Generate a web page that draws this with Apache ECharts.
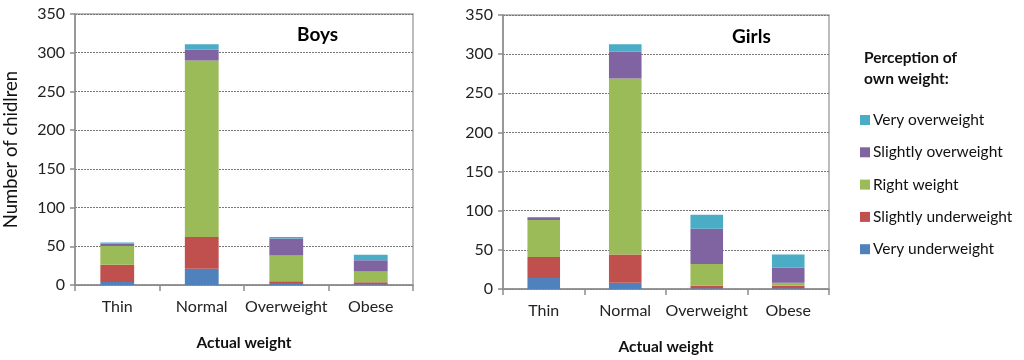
<!DOCTYPE html>
<html><head><meta charset="utf-8">
<script src="https://cdn.jsdelivr.net/npm/echarts@6/dist/echarts.min.js"></script>
<style>html,body{margin:0;padding:0;background:#fff}#c{width:1024px;height:360px}</style>
</head><body><div id="c"></div>
<script>
const categories = ['Thin', 'Normal', 'Overweight', 'Obese'];
const seriesNames = ['Very underweight', 'Slightly underweight', 'Right weight', 'Slightly overweight', 'Very overweight'];
const colors = ['#4F81BD', '#C0504D', '#9BBB59', '#8064A2', '#4BACC6'];
// Boys
const boysVeryUnder   = [4, 21, 2.5, 1];
const boysSlightUnder = [22, 41, 2.5, 2.5];
const boysRight       = [24.5, 228, 33, 14];
const boysSlightOver  = [3, 14, 22, 14.5];
const boysVeryOver    = [1.5, 7, 2, 7];
// Girls
const girlsVeryUnder   = [14, 8, 1, 1];
const girlsSlightUnder = [27, 36, 3, 3];
const girlsRight       = [47, 225, 28, 4];
const girlsSlightOver  = [3.5, 34.5, 45, 19];
const girlsVeryOver    = [0.5, 9, 18, 17];
const yTicks = { min: 0, max: 350, interval: 50 };

const boys = [boysVeryUnder, boysSlightUnder, boysRight, boysSlightOver, boysVeryOver];
const girls = [girlsVeryUnder, girlsSlightUnder, girlsRight, girlsSlightOver, girlsVeryOver];
const FONT = 'Lato';

function xAxis(idx) {
  return {
    type: 'category', gridIndex: idx, data: categories,
    axisLine: { lineStyle: { color: '#8c8c8c', width: 1.5 } },
    axisTick: { show: true, length: 6, lineStyle: { color: '#8c8c8c', width: 1.5 } },
    axisLabel: { color: '#222', fontSize: 16, fontFamily: FONT, margin: 14, interval: 0 },
    name: 'Actual weight', nameLocation: 'middle', nameGap: 50,
    nameTextStyle: { fontWeight: 'bold', fontSize: 15.5, color: '#111', fontFamily: FONT }
  };
}
function yAxis(idx) {
  const a = {
    type: 'value', gridIndex: idx, min: yTicks.min, max: yTicks.max, interval: yTicks.interval,
    axisLine: { show: true, lineStyle: { color: '#8c8c8c', width: 1.5 } },
    axisTick: { show: true, length: 5, lineStyle: { color: '#8c8c8c', width: 1.5 } },
    axisLabel: { color: '#222', fontSize: 16, fontFamily: FONT, margin: 10 },
    splitLine: { show: true, lineStyle: { color: '#777', type: [2, 1], width: 1 } }
  };
  if (idx === 0) {
    a.name = 'Number of chidlren';
    a.nameLocation = 'middle';
    a.nameGap = 54;
    a.nameTextStyle = { fontSize: 18.5, color: '#111', fontFamily: FONT };
  }
  return a;
}
const series = [];
[boys, girls].forEach((grp, gi) => {
  grp.forEach((vals, si) => {
    series.push({
      type: 'bar', name: seriesNames[si], xAxisIndex: gi, yAxisIndex: gi,
      stack: gi === 0 ? 'boys' : 'girls', data: vals, barWidth: '40%',
      itemStyle: { color: colors[si] }
    });
  });
});
const option = {
  animation: false,
  color: colors,
  textStyle: { fontFamily: FONT },
  grid: [
    { left: 75, top: 14, width: 338, height: 271, show: true, borderColor: '#a6a6a6', borderWidth: 1.5, backgroundColor: 'transparent', outerBoundsMode: 'none', containLabel: false },
    { left: 503, top: 15, width: 326, height: 274, show: true, borderColor: '#a6a6a6', borderWidth: 1.5, backgroundColor: 'transparent', outerBoundsMode: 'none', containLabel: false }
  ],
  xAxis: [xAxis(0), xAxis(1)],
  yAxis: [yAxis(0), yAxis(1)],
  title: [
    { text: 'Boys', left: 292, top: 20, textStyle: { fontSize: 19, fontWeight: 'bold', color: '#000', fontFamily: FONT } },
    { text: 'Girls', left: 727, top: 22, textStyle: { fontSize: 19, fontWeight: 'bold', color: '#000', fontFamily: FONT } },
    { text: 'Perception of\nown weight:', left: 859, top: 42, textStyle: { fontSize: 15.5, fontWeight: 'bold', color: '#111', fontFamily: FONT, lineHeight: 21 } }
  ],
  legend: {
    orient: 'vertical', left: 855, top: 107, itemWidth: 10, itemHeight: 10, itemGap: 16.3,
    icon: 'rect',
    data: ['Very overweight', 'Slightly overweight', 'Right weight', 'Slightly underweight', 'Very underweight'],
    textStyle: { fontSize: 15.5, color: '#111', fontFamily: FONT, padding: [0, 0, 0, -2] }
  },
  series
};
echarts.init(document.getElementById('c'), null, { renderer: 'canvas' }).setOption(option);
</script></body></html>
